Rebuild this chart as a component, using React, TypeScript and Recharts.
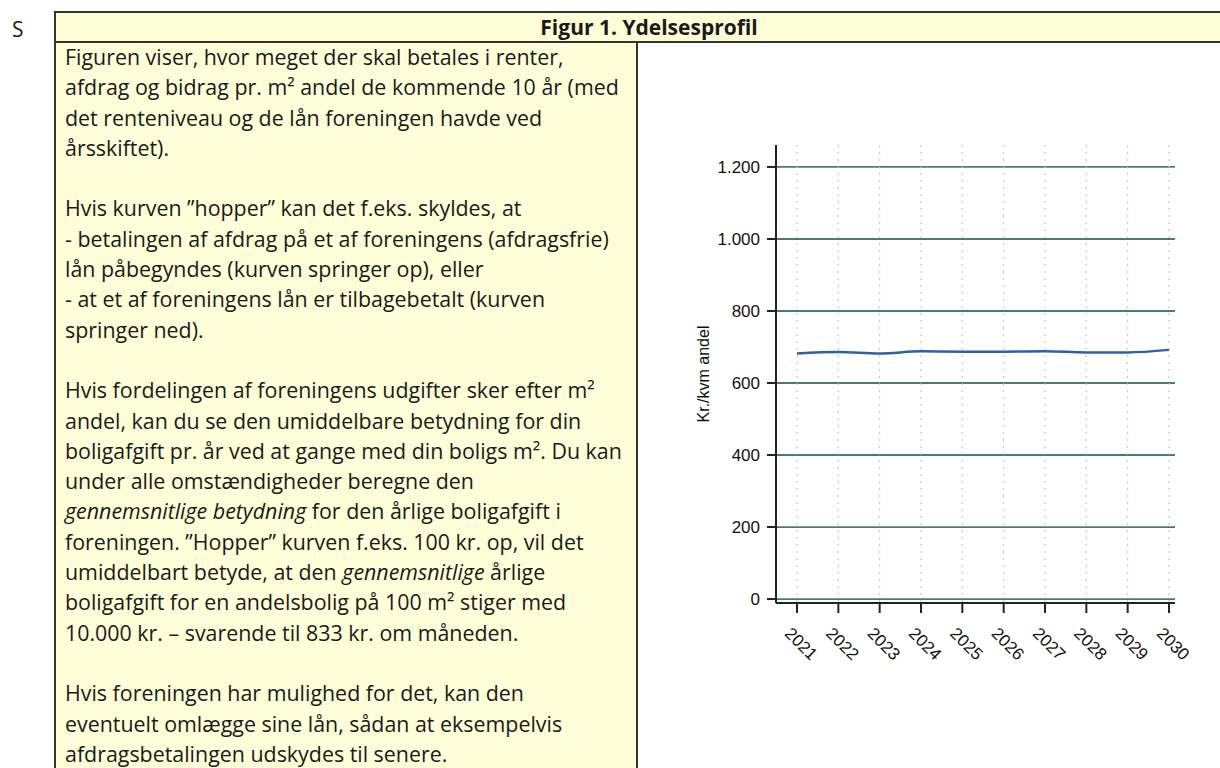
import { LineChart, Line, XAxis, YAxis, CartesianGrid } from "recharts";

const years = ["2021", "2022", "2023", "2024", "2025", "2026", "2027", "2028", "2029", "2030"];
const ydelse = [682, 686, 682, 688, 687, 687, 688, 685, 685, 692];
const yTicks = [0, 200, 400, 600, 800, 1000, 1200];

const data = years.map((year, i) => ({ year, value: ydelse[i] }));

const textFont = "'Open Sans', Lato, sans-serif";
const axisFont = "'Liberation Sans', Arial, sans-serif";

const fmt = (v: number) => v.toLocaleString("da-DK");

const XTick = ({ x, y, payload }: any) => (
  <g transform={`translate(${x + 4},${y + 29})`}>
    <text
      transform="rotate(45)"
      textAnchor="middle"
      dominantBaseline="central"
      fontSize={17}
      fontFamily={axisFont}
      fill="#111"
    >
      {payload.value}
    </text>
  </g>
);

const I = ({ children }: { children: string }) => <i>{children}</i>;

const lines: React.ReactNode[] = [
  "Figuren viser, hvor meget der skal betales i renter,",
  "afdrag og bidrag pr. m² andel de kommende 10 år (med",
  "det renteniveau og de lån foreningen havde ved",
  "årsskiftet).",
  "",
  "Hvis kurven ”hopper” kan det f.eks. skyldes, at",
  "- betalingen af afdrag på et af foreningens (afdragsfrie)",
  "lån påbegyndes (kurven springer op), eller",
  "- at et af foreningens lån er tilbagebetalt (kurven",
  "springer ned).",
  "",
  "Hvis fordelingen af foreningens udgifter sker efter m²",
  "andel, kan du se den umiddelbare betydning for din",
  "boligafgift pr. år ved at gange med din boligs m². Du kan",
  "under alle omstændigheder beregne den",
  <>
    <I>gennemsnitlige betydning</I> for den årlige boligafgift i
  </>,
  "foreningen. ”Hopper” kurven f.eks. 100 kr. op, vil det",
  <>
    umiddelbart betyde, at den <I>gennemsnitlige</I> årlige
  </>,
  "boligafgift for en andelsbolig på 100 m² stiger med",
  "10.000 kr. – svarende til 833 kr. om måneden.",
  "",
  "Hvis foreningen har mulighed for det, kan den",
  "eventuelt omlægge sine lån, sådan at eksempelvis",
  "afdragsbetalingen udskydes til senere.",
];

export default function App() {
  return (
    <div
      style={{
        position: "fixed",
        left: 0,
        top: 0,
        width: 1220,
        height: 768,
        overflow: "hidden",
        background: "#fff",
        fontFamily: textFont,
        color: "#1a1a1a",
      }}
    >
      <div style={{ position: "absolute", left: 12, top: 15, fontSize: 21 }}>S</div>

      {/* header row */}
      <div
        style={{
          position: "absolute",
          left: 54,
          top: 11,
          width: 1186,
          height: 28,
          border: "2px solid #333",
          background: "#fdfdd6",
          textAlign: "center",
          fontWeight: 700,
          fontSize: 21,
          lineHeight: "28px",
        }}
      >
        Figur 1. Ydelsesprofil
      </div>

      {/* text cell */}
      <div
        style={{
          position: "absolute",
          left: 54,
          top: 41,
          width: 580,
          height: 800,
          border: "2px solid #333",
          background: "#fefed9",
        }}
      />
      <div
        style={{
          position: "absolute",
          left: 65,
          top: 42,
          fontSize: 21.4,
          lineHeight: "30.3px",
          whiteSpace: "nowrap",
        }}
      >
        {lines.map((l, i) => (
          <div key={i}>{l === "" ? "\u00a0" : l}</div>
        ))}
      </div>

      {/* chart */}
      <div style={{ position: "absolute", left: 630, top: 100 }}>
        <LineChart
          width={570}
          height={600}
          data={data}
          margin={{ top: 45, right: 25, left: 0, bottom: 37 }}
        >
          <CartesianGrid
            vertical={false}
            horizontalValues={yTicks}
            stroke="#4b7880"
            strokeWidth={1.8}
          />
          <CartesianGrid
            horizontal={false}
            verticalValues={years}
            stroke="#bdbdbd"
            strokeDasharray="2 5"
          />
          <XAxis
            dataKey="year"
            interval={0}
            padding={{ left: 21, right: 6 }}
            height={60}
            tickSize={10}
            tickMargin={2}
            tick={<XTick />}
            axisLine={{ stroke: "#222", strokeWidth: 2 }}
            tickLine={{ stroke: "#222", strokeWidth: 2 }}
          />
          <YAxis
            width={146}
            domain={[-11, 1261]}
            ticks={yTicks}
            interval={0}
            tickFormatter={fmt}
            tickSize={9}
            tickMargin={7}
            tick={{ fontSize: 17, fontFamily: axisFont, fill: "#111" }}
            axisLine={{ stroke: "#222", strokeWidth: 2 }}
            tickLine={{ stroke: "#222", strokeWidth: 2 }}
            label={{
              value: "Kr./kvm andel",
              angle: -90,
              position: "center",
              fontSize: 16,
              fontFamily: axisFont,
              fill: "#111",
            }}
          />
          <Line
            type="monotone"
            dataKey="value"
            stroke="#2f5fa8"
            strokeWidth={2.5}
            dot={false}
            isAnimationActive={false}
          />
        </LineChart>
      </div>
    </div>
  );
}
